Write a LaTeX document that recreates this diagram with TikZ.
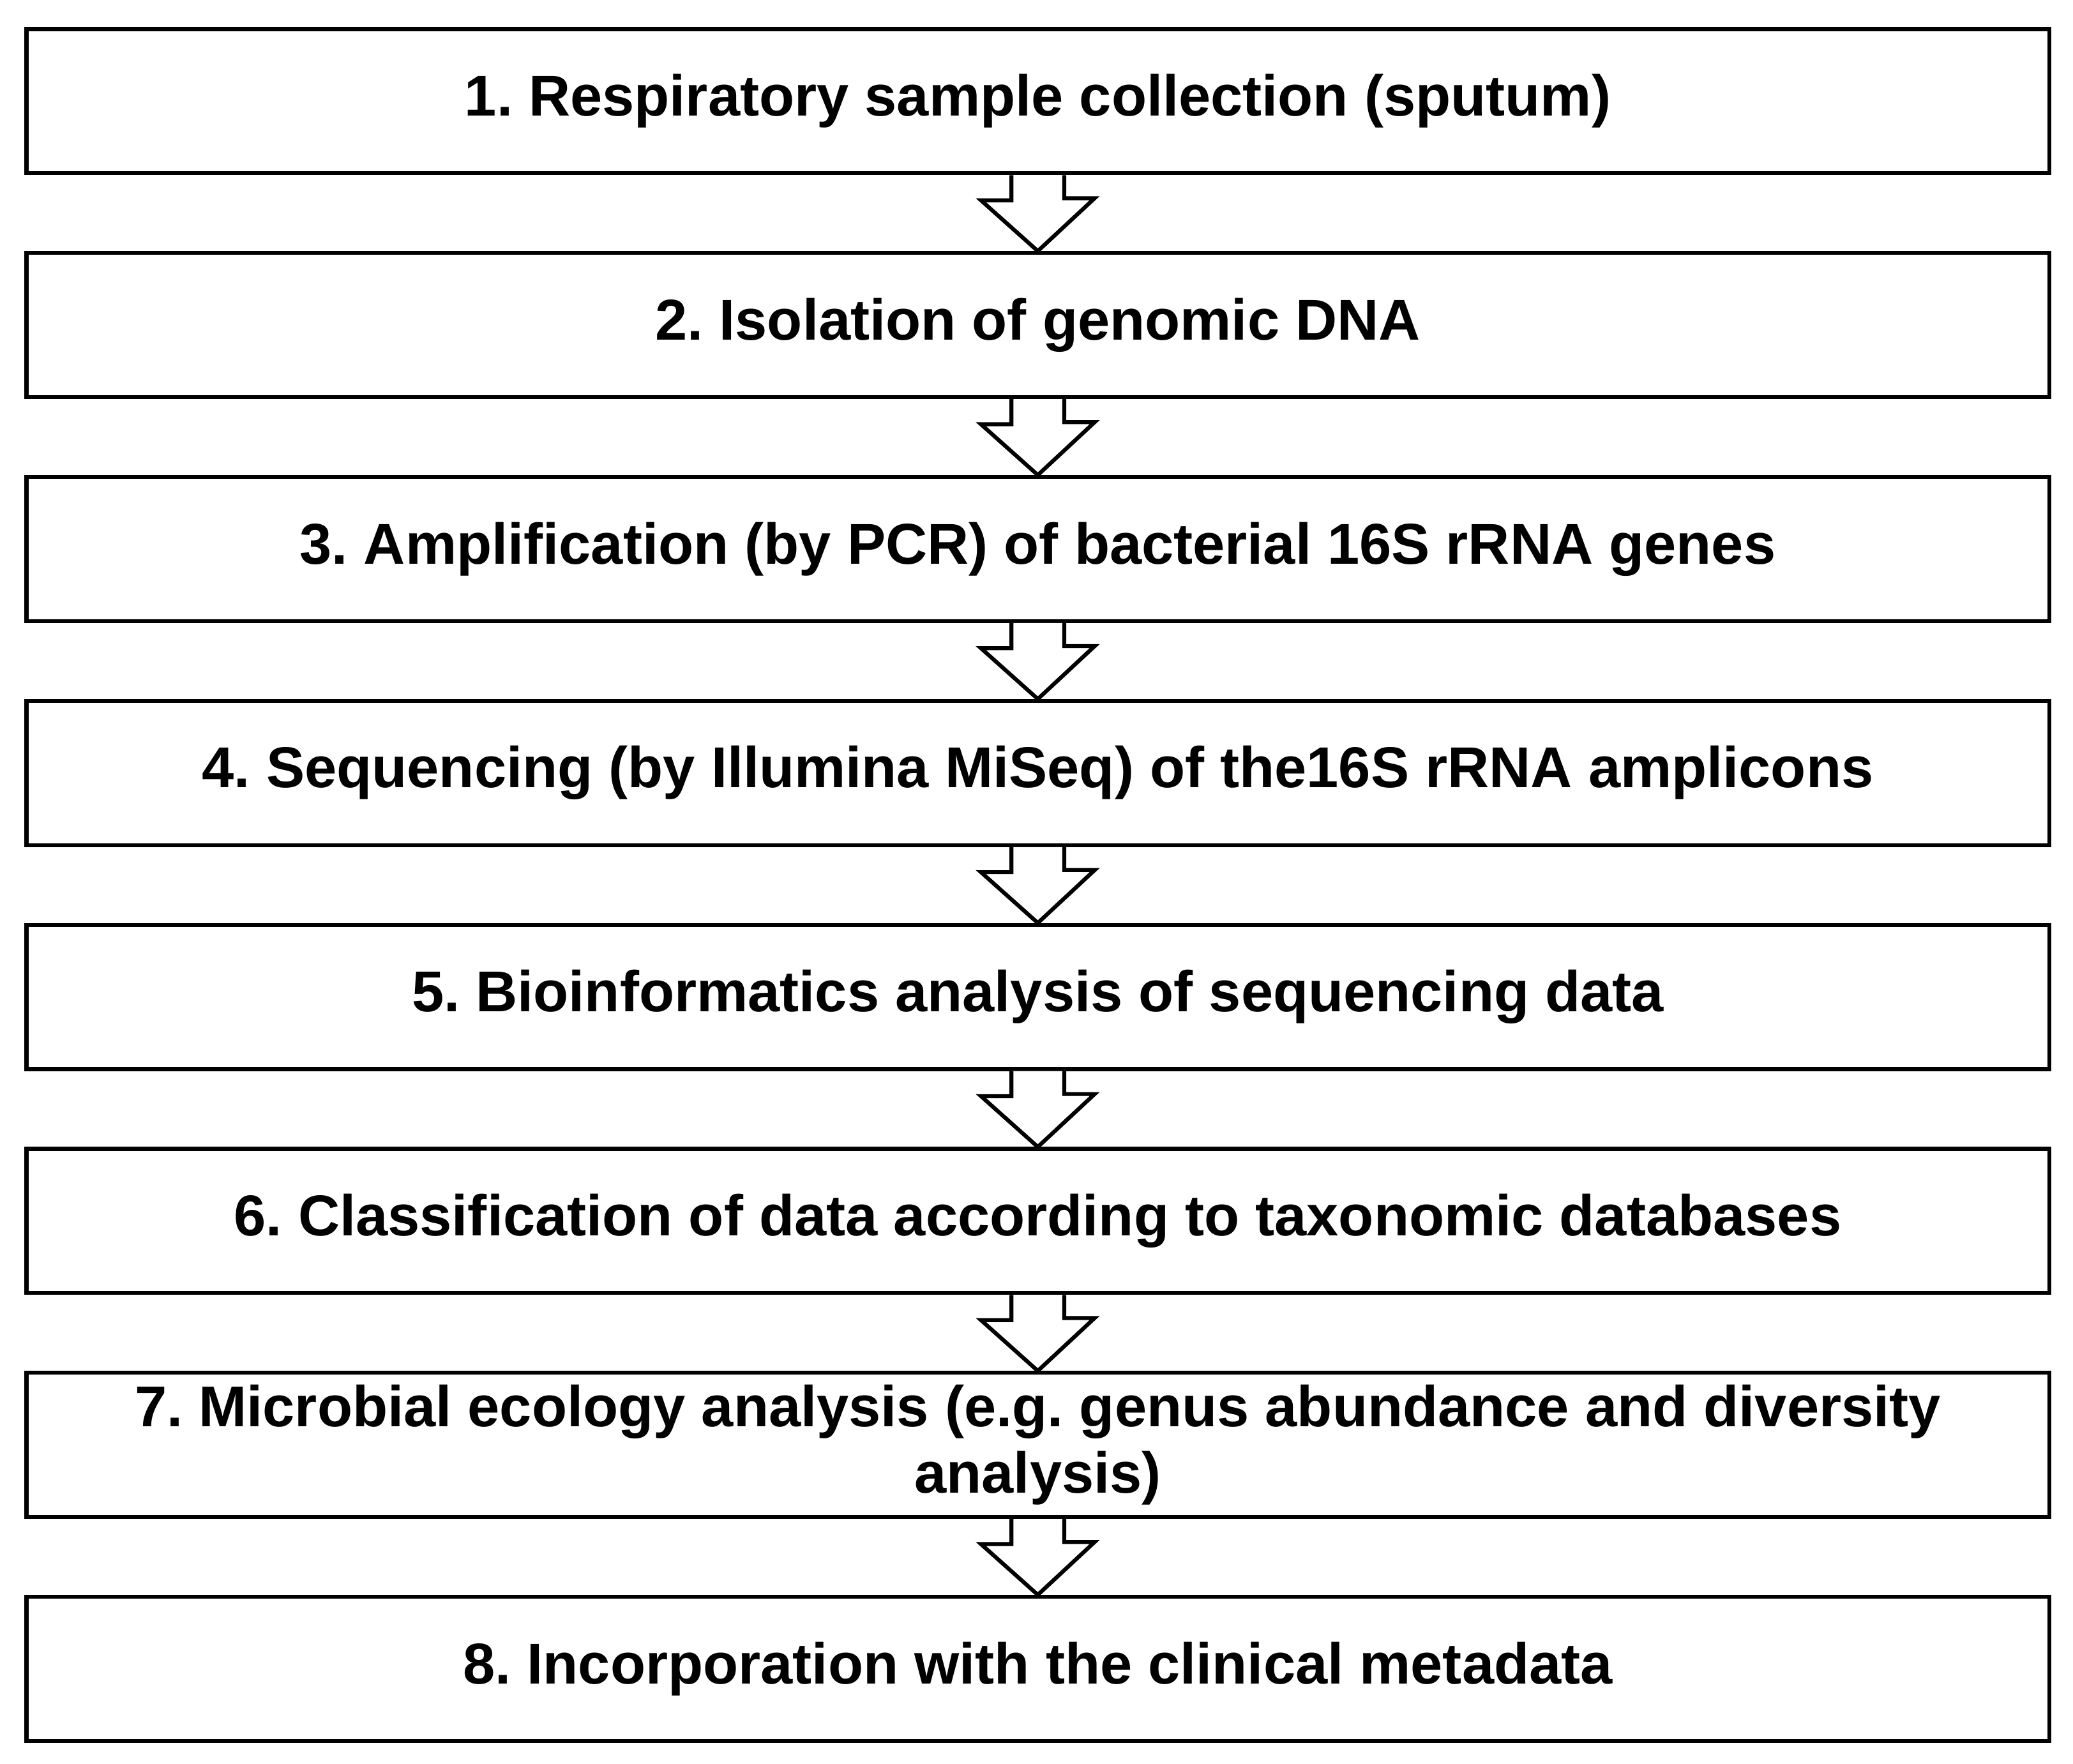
\documentclass[tikz,border=0pt]{standalone}
\usepackage{fontspec}
\setmainfont{Liberation Sans}
\frenchspacing
\begin{document}
\begin{tikzpicture}[x=0.1mm,y=-0.1mm,
  box/.style={draw,line width=0.3mm,minimum width=153mm,minimum height=10.9mm,inner sep=0pt,align=center,font=\fontsize{12.4}{14.2}\selectfont\bfseries},
  arr/.style={draw,line width=0.3mm,fill=white,line join=miter}]
\useasboundingbox (0,0) rectangle (1568,1334);
\foreach \i/\t in {1/{1. Respiratory sample collection (sputum)},
  2/{2. Isolation of genomic DNA},
  3/{3. Amplification (by PCR) of bacterial 16S rRNA genes},
  4/{4. Sequencing (by Illumina MiSeq) of the16S rRNA amplicons},
  5/{5. Bioinformatics analysis of sequencing data},
  6/{6. Classification of data according to taxonomic databases},
  7/{7. Microbial ecology analysis (e.g. genus abundance and diversity\\ analysis)},
  8/{8. Incorporation with the clinical metadata}}{
  \node[box] (b\i) at (785,{76.5+169.4*(\i-1)}) {\t};
}
\foreach \i [evaluate=\i as \j using int(\i+1)] in {1,...,7}{
  \coordinate (s\i) at (b\i.south);
  \draw[arr] ([xshift=-2mm]s\i) -- ++(0,19) -- ++(-23,0) -- (b\j.north) -- ++(43,-40) -- ++(-23,0) -- ([xshift=2mm]s\i);
}
\end{tikzpicture}
\end{document}
